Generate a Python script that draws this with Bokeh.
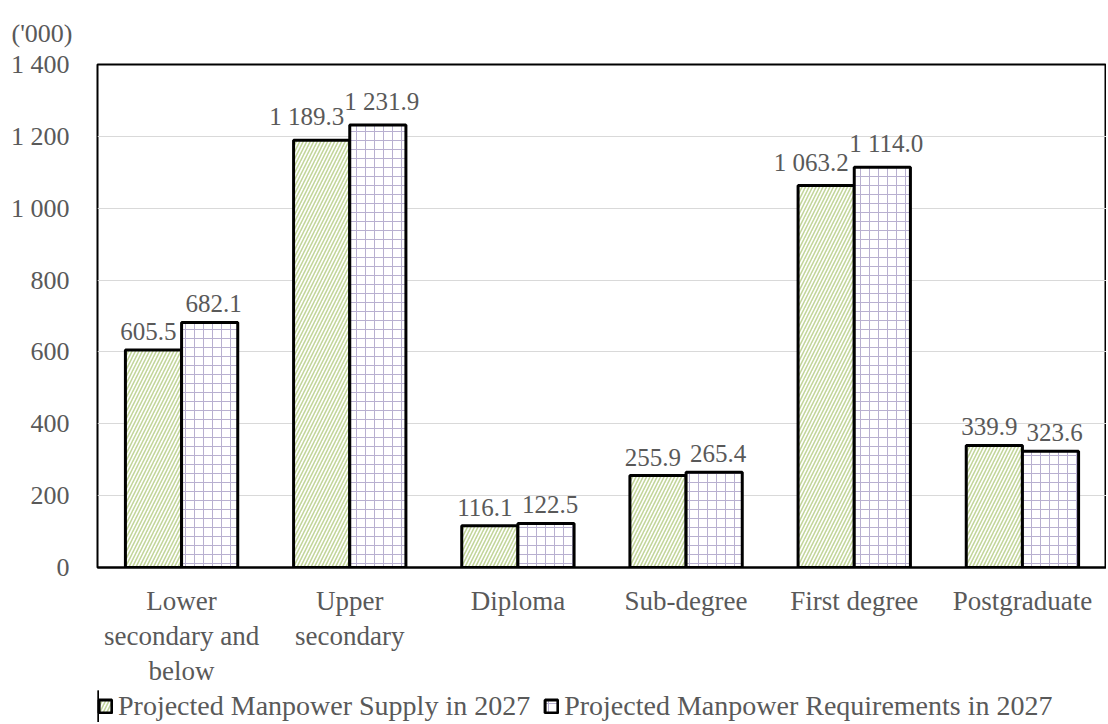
from bokeh.plotting import figure
from bokeh.layouts import column
from bokeh.models import ColumnDataSource, FixedTicker, Legend, LegendItem, LabelSet, Range1d
from bokeh.embed import file_html
from bokeh.resources import INLINE

categories = ["Lower\nsecondary and\nbelow", "Upper\nsecondary", "Diploma", "Sub-degree", "First degree", "Postgraduate"]
supply = [605.5, 1189.3, 116.1, 255.9, 1063.2, 339.9]
requirements = [682.1, 1231.9, 122.5, 265.4, 1114.0, 323.6]
y_ticks = [0, 200, 400, 600, 800, 1000, 1200, 1400]
y_tick_labels = ["0", "200", "400", "600", "800", "1 000", "1 200", "1 400"]
series_names = ["Projected Manpower Supply in 2027", "Projected Manpower Requirements in 2027"]

FONT = "Liberation Serif"
GRAY = "#595959"
SUPPLY_STYLE = dict(fill_color="white", line_color="black", line_width=3,
                    hatch_pattern="right_diagonal_line", hatch_color="#c3d69b", hatch_scale=7, hatch_weight=1.6)
REQ_STYLE = dict(fill_color="white", line_color="black", line_width=3,
                 hatch_pattern="cross", hatch_color="#b8b0d0", hatch_scale=9, hatch_weight=1)

def fmt(v):
    s = f"{v:,.1f}"
    return s.replace(",", " ")

centers = [i + 0.5 for i in range(len(categories))]
src_s = ColumnDataSource(dict(x=[c - 0.167 for c in centers], top=supply, lab=[fmt(v) for v in supply],
                              dx=[-15 if v >= 1000 else -5 for v in supply]))
src_r = ColumnDataSource(dict(x=[c + 0.167 for c in centers], top=requirements, lab=[fmt(v) for v in requirements],
                              dx=[4 for v in requirements]))

p = figure(width=1106, height=690, output_backend="svg", toolbar_location=None,
           x_range=Range1d(0, 6), y_range=Range1d(0, 1400),
           min_border_left=97, min_border_right=0, min_border_top=64, min_border_bottom=123)

p.outline_line_color = "black"
p.outline_line_width = 2

p.title.text = "('000)"
p.title.text_font = FONT
p.title.text_font_size = "26px"
p.title.text_font_style = "normal"
p.title.text_color = GRAY
p.title.align = "left"
p.title.offset = -86
p.title.standoff = 33

p.vbar(x="x", top="top", width=0.334, source=src_s, **SUPPLY_STYLE)
p.vbar(x="x", top="top", width=0.334, source=src_r, **REQ_STYLE)

for src in (src_s, src_r):
    p.add_layout(LabelSet(x="x", y="top", text="lab", source=src, x_offset="dx", y_offset=10,
                          text_align="center", text_baseline="bottom", text_font=FONT,
                          text_font_size="25px", text_color=GRAY))

p.xgrid.grid_line_color = None
p.ygrid.grid_line_color = "#d9d9d9"
p.ygrid.grid_line_width = 1
p.ygrid.ticker = FixedTicker(ticks=y_ticks)

p.yaxis.ticker = FixedTicker(ticks=y_ticks)
p.yaxis.major_label_overrides = {t: l for t, l in zip(y_ticks, y_tick_labels)}
p.yaxis.axis_line_color = None
p.yaxis.major_tick_line_color = None
p.yaxis.minor_tick_line_color = None
p.yaxis.major_label_text_font = FONT
p.yaxis.major_label_text_font_size = "26px"
p.yaxis.major_label_text_color = GRAY
p.yaxis.major_label_standoff = 22

p.xaxis.ticker = FixedTicker(ticks=centers)
p.xaxis.major_label_overrides = {c: l for c, l in zip(centers, categories)}
p.xaxis.axis_line_color = "black"
p.xaxis.axis_line_width = 2
p.xaxis.major_tick_line_color = None
p.xaxis.minor_tick_line_color = None
p.xaxis.major_label_text_font = FONT
p.xaxis.major_label_text_font_size = "27px"
p.xaxis.major_label_text_color = GRAY
p.xaxis.major_label_text_line_height = 1.17
p.xaxis.major_label_standoff = 12

# Legend strip below the chart (dummy renderers hold no drawable geometry)
lg = figure(width=1106, height=32, output_backend="svg", toolbar_location=None,
            x_range=Range1d(0, 1), y_range=Range1d(0, 1),
            x_axis_location=None, y_axis_location=None,
            min_border_left=0, min_border_right=0, min_border_top=0, min_border_bottom=0)
lg.grid.visible = False
lg.outline_line_color = None
dummy = ColumnDataSource(dict(x=[-50], top=[1]))
ls = lg.vbar(x="x", top="top", width=0.1, source=dummy, **SUPPLY_STYLE)
lr = lg.vbar(x="x", top="top", width=0.1, source=dummy, **REQ_STYLE)
legend = Legend(items=[LegendItem(label=series_names[0], renderers=[ls]),
                       LegendItem(label=series_names[1], renderers=[lr])],
                orientation="horizontal", location=(0, 0),
                label_text_font=FONT, label_text_font_size="28px", label_text_color=GRAY,
                glyph_width=16, glyph_height=16, spacing=13, label_standoff=5,
                border_line_color=None, background_fill_alpha=0, padding=0, margin=0)
lg.add_layout(legend, "center")

layout = column(p, lg, spacing=0)
open("out.html", "w").write(file_html(layout, INLINE))
